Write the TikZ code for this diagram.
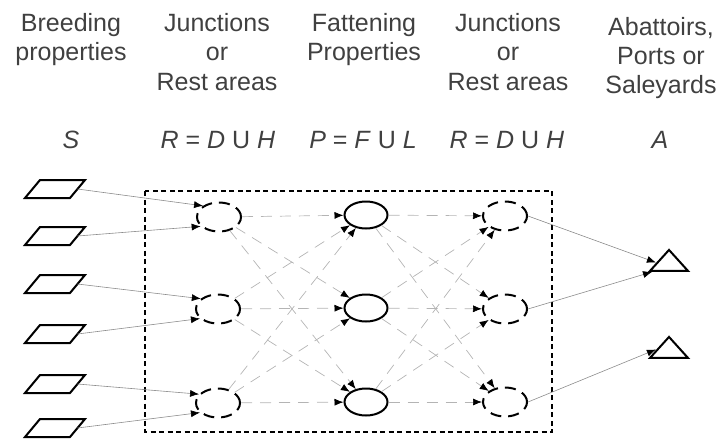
\documentclass[tikz,border=0pt]{standalone}
\usepackage{fontspec}
\setmainfont{Liberation Sans}
\usetikzlibrary{shapes.geometric,arrows.meta}
\definecolor{txt}{HTML}{404040}
\definecolor{feedgray}{HTML}{8C8C8C}
\definecolor{flowgray}{HTML}{B4B4B4}
\begin{document}
\begin{tikzpicture}[x=1pt,y=-1pt,
  hdr/.style={anchor=base, text=txt, font=\fontsize{25}{30}\selectfont, inner sep=0pt},
  srcbox/.style={minimum width=45pt, minimum height=18pt, inner sep=0pt, outer sep=0pt},
  slanted/.style={line width=2pt, line join=miter},
  junc/.style={draw, ellipse, line width=2pt, dash pattern=on 11pt off 7pt, minimum width=44pt, minimum height=29pt, inner sep=0pt},
  fat/.style={draw, ellipse, line width=2pt, minimum width=43pt, minimum height=27pt, inner sep=0pt},
  sink/.style={draw, isosceles triangle, shape border rotate=90, isosceles triangle stretches,
    minimum width=38pt, minimum height=21pt, inner sep=0pt, line width=2pt},
  arr/.style={-{Latex[length=9pt,width=7pt,color=black]}},
  feed/.style={arr, draw=feedgray, line width=0.6pt},
  flow/.style={arr, draw=flowgray, line width=0.7pt, dash pattern=on 11pt off 8pt},
]
\useasboundingbox (0,0) rectangle (719,439);

% headers
\node[hdr] (h1a) at (71,31) {Breeding};
\node[hdr] (h1b) at (71,60) {properties};
\node[hdr] (h2a) at (217,31) {Junctions};
\node[hdr] (h2b) at (217,60) {or};
\node[hdr] (h2c) at (217,90) {Rest areas};
\node[hdr] (h3a) at (364,31) {Fattening};
\node[hdr] (h3b) at (364,60) {Properties};
\node[hdr] (h4a) at (508,31) {Junctions};
\node[hdr] (h4b) at (508,60) {or};
\node[hdr] (h4c) at (508,90) {Rest areas};
\node[hdr] (h5a) at (661,35) {Abattoirs,};
\node[hdr] (h5b) at (661,64) {Ports or};
\node[hdr] (h5c) at (661,93) {Saleyards};

% set names
\node[hdr] (m1) at (71,148) {\textit{S}};
\node[hdr] (m2) at (218,148) {\textit{R} = \textit{D} U \textit{H}};
\node[hdr] (m3) at (363,148) {\textit{P} = \textit{F} U \textit{L}};
\node[hdr] (m4) at (507,148) {\textit{R} = \textit{D} U \textit{H}};
\node[hdr] (m5) at (660,148) {\textit{A}};

% dashed frame
\draw[line width=2pt, dash pattern=on 5pt off 3.5pt] (145,191) rectangle (552,432);

% sources
\node[srcbox] (S1) at (55,189) {};
\node[srcbox] (S2) at (55,236) {};
\node[srcbox] (S3) at (55,284) {};
\node[srcbox] (S4) at (55,334) {};
\node[srcbox] (S5) at (55,384) {};
\node[srcbox] (S6) at (55,428) {};
\foreach \s in {S1,S2,S3,S4,S5,S6}{
  \draw[slanted] ([xshift=-7.5pt]\s.south west) -- ([xshift=-7.5pt]\s.south east)
    -- ([xshift=7.5pt]\s.north east) -- ([xshift=7.5pt]\s.north west) -- cycle;
}

% junctions (left)
\node[junc] (J1) at (219,217) {};
\node[junc] (J2) at (218,309) {};
\node[junc] (J3) at (218,403) {};

% fattening
\node[fat] (F1) at (366,215) {};
\node[fat] (F2) at (366,308) {};
\node[fat] (F3) at (366,402) {};

% junctions (right)
\node[junc] (K1) at (505,216) {};
\node[junc] (K2) at (505,309) {};
\node[junc] (K3) at (505,402) {};

% abattoirs
\node[sink] (T1) at (669,262.5) {};
\node[sink] (T2) at (669,349.5) {};

% source edges
\draw[feed] (S1.east) -- (J1.145);
\draw[feed] (S2.east) -- (J1.207);
\draw[feed] (S3.east) -- (J2.149);
\draw[feed] (S4.east) -- (J2.208);
\draw[feed] (S5.east) -- (J3.155);
\draw[feed] (S6.east) -- (J3.208);

% junction -> fattening
\foreach \a in {J1,J2,J3}{
  \foreach \b in {F1,F2,F3}{
    \draw[flow] (\a) -- (\b);
  }
}
% fattening -> junction
\foreach \a in {F1,F2,F3}{
  \foreach \b in {K1,K2,K3}{
    \draw[flow] (\a) -- (\b);
  }
}

% junction -> abattoirs
\draw[feed] (K1.east) -- (T1.180);
\draw[feed] (K2.east) -- (T1.209);
\draw[feed] (K3.east) -- (T2.180);
\end{tikzpicture}
\end{document}
